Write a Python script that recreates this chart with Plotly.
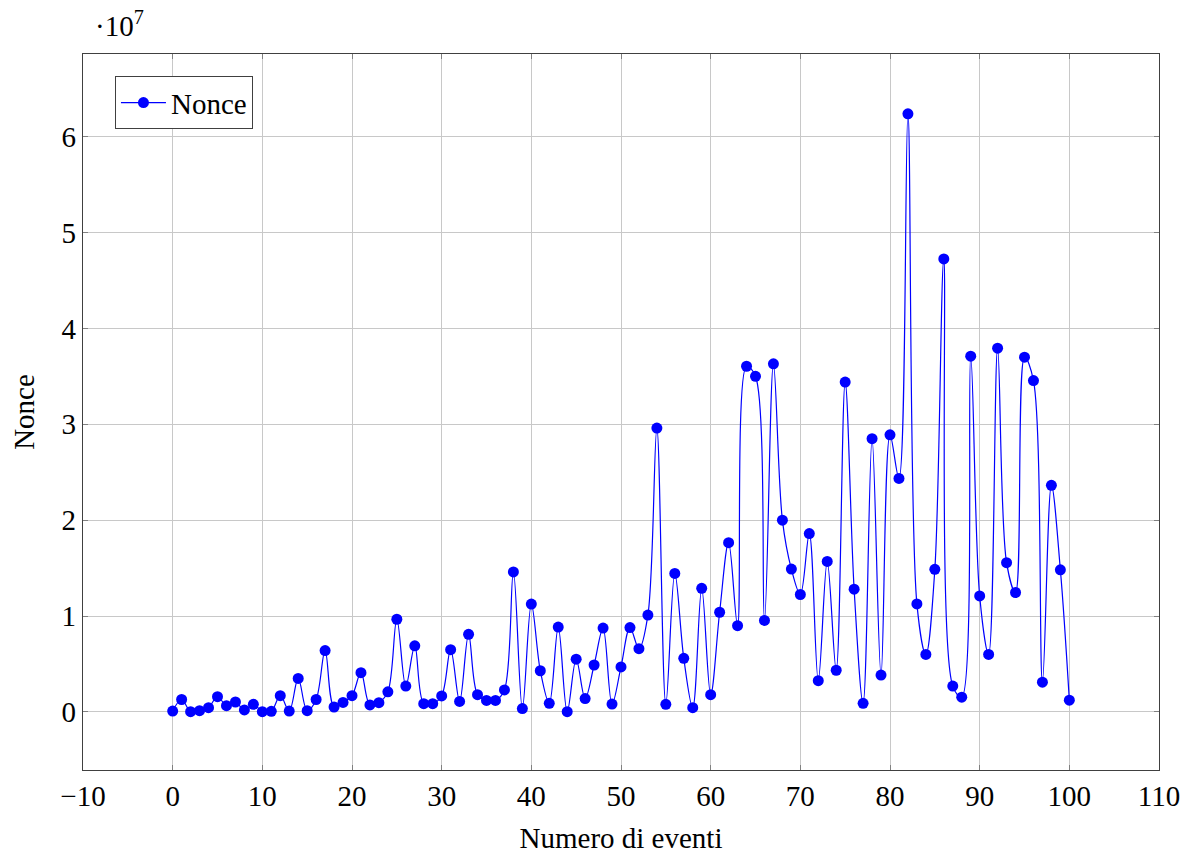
import plotly.graph_objects as go

events = list(range(0, 101))
nonce_e7 = [
    0.01, 0.13, 0.003, 0.014, 0.045, 0.16, 0.066, 0.104, 0.021, 0.08,
    0.003, 0.007, 0.17, 0.01, 0.35, 0.014, 0.13, 0.64, 0.052, 0.10,
    0.17, 0.41, 0.073, 0.097, 0.21, 0.967, 0.27, 0.69, 0.087, 0.087,
    0.167, 0.65, 0.11, 0.81, 0.18, 0.12, 0.12, 0.23, 1.46, 0.035,
    1.125, 0.43, 0.09, 0.885, 0.003, 0.55, 0.14, 0.49, 0.875, 0.083,
    0.47, 0.88, 0.66, 1.01, 2.96, 0.08, 1.445, 0.56, 0.045, 1.29,
    0.18, 1.04, 1.765, 0.90, 3.605, 3.50, 0.955, 3.63, 2.0, 1.49,
    1.225, 1.86, 0.326, 1.57, 0.435, 3.44, 1.28, 0.09, 2.85, 0.385,
    2.89, 2.435, 6.237, 1.127, 0.60, 1.487, 4.724, 0.27, 0.154, 3.71,
    1.21, 0.60, 3.794, 1.557, 1.246, 3.70, 3.456, 0.311, 2.364, 1.482,
    0.123,
]
nonce = [v * 1e7 for v in nonce_e7]

x_ticks = list(range(-10, 111, 10))
x_ticktext = [("\u2212" + str(-t)) if t < 0 else str(t) for t in x_ticks]
y_ticks_e7 = [0, 1, 2, 3, 4, 5, 6]
y_tickvals = [t * 1e7 for t in y_ticks_e7]
y_ticktext = [str(t) for t in y_ticks_e7]

FONT = "Liberation Serif"
FS = 29
AXIS_COL = "#404040"
GRID_COL = "#c8c8c8"

fig = go.Figure()
fig.add_trace(go.Scatter(
    x=events, y=nonce, mode="lines+markers", name="Nonce",
    line=dict(color="#0000ff", width=1.2, shape="spline", smoothing=1.0),
    marker=dict(color="#0000ff", size=11, line=dict(width=0)),
))

fig.update_layout(
    width=1182, height=846,
    margin=dict(l=75, r=31, t=46, b=84),
    paper_bgcolor="white", plot_bgcolor="white",
    font=dict(family=FONT, size=FS, color="black"),
    showlegend=True,
    legend=dict(
        x=0.0297, y=0.969, xanchor="left", yanchor="top",
        bordercolor=AXIS_COL, borderwidth=1, bgcolor="white",
        font=dict(family=FONT, size=FS),
        itemwidth=45,
    ),
    xaxis=dict(
        range=[-10, 110], tickvals=x_ticks, ticktext=x_ticktext,
        showgrid=True, gridcolor=GRID_COL, gridwidth=1,
        zeroline=False, showline=True, linecolor=AXIS_COL, linewidth=1.3,
        mirror="ticks", ticks="inside", ticklen=5, tickcolor="#808080",
        automargin=False,
        title=dict(text="Numero di eventi", standoff=18, font=dict(family=FONT, size=FS)),
        tickfont=dict(family=FONT, size=FS),
    ),
    yaxis=dict(
        range=[-0.605e7, 6.861e7], tickvals=y_tickvals, ticktext=y_ticktext,
        showgrid=True, gridcolor=GRID_COL, gridwidth=1,
        zeroline=False, showline=True, linecolor=AXIS_COL, linewidth=1.3,
        mirror="ticks", ticks="inside", ticklen=5, tickcolor="#808080",
        automargin=False,
        title=dict(text="Nonce", standoff=18, font=dict(family=FONT, size=FS)),
        tickfont=dict(family=FONT, size=FS),
    ),
    annotations=[dict(
        text="\u00b710<sup>7</sup>", xref="paper", yref="paper",
        x=0.009, y=1.0, xanchor="left", yanchor="bottom", yshift=10,
        showarrow=False, font=dict(family=FONT, size=FS),
    )],
)

fig.write_html("out.html")
